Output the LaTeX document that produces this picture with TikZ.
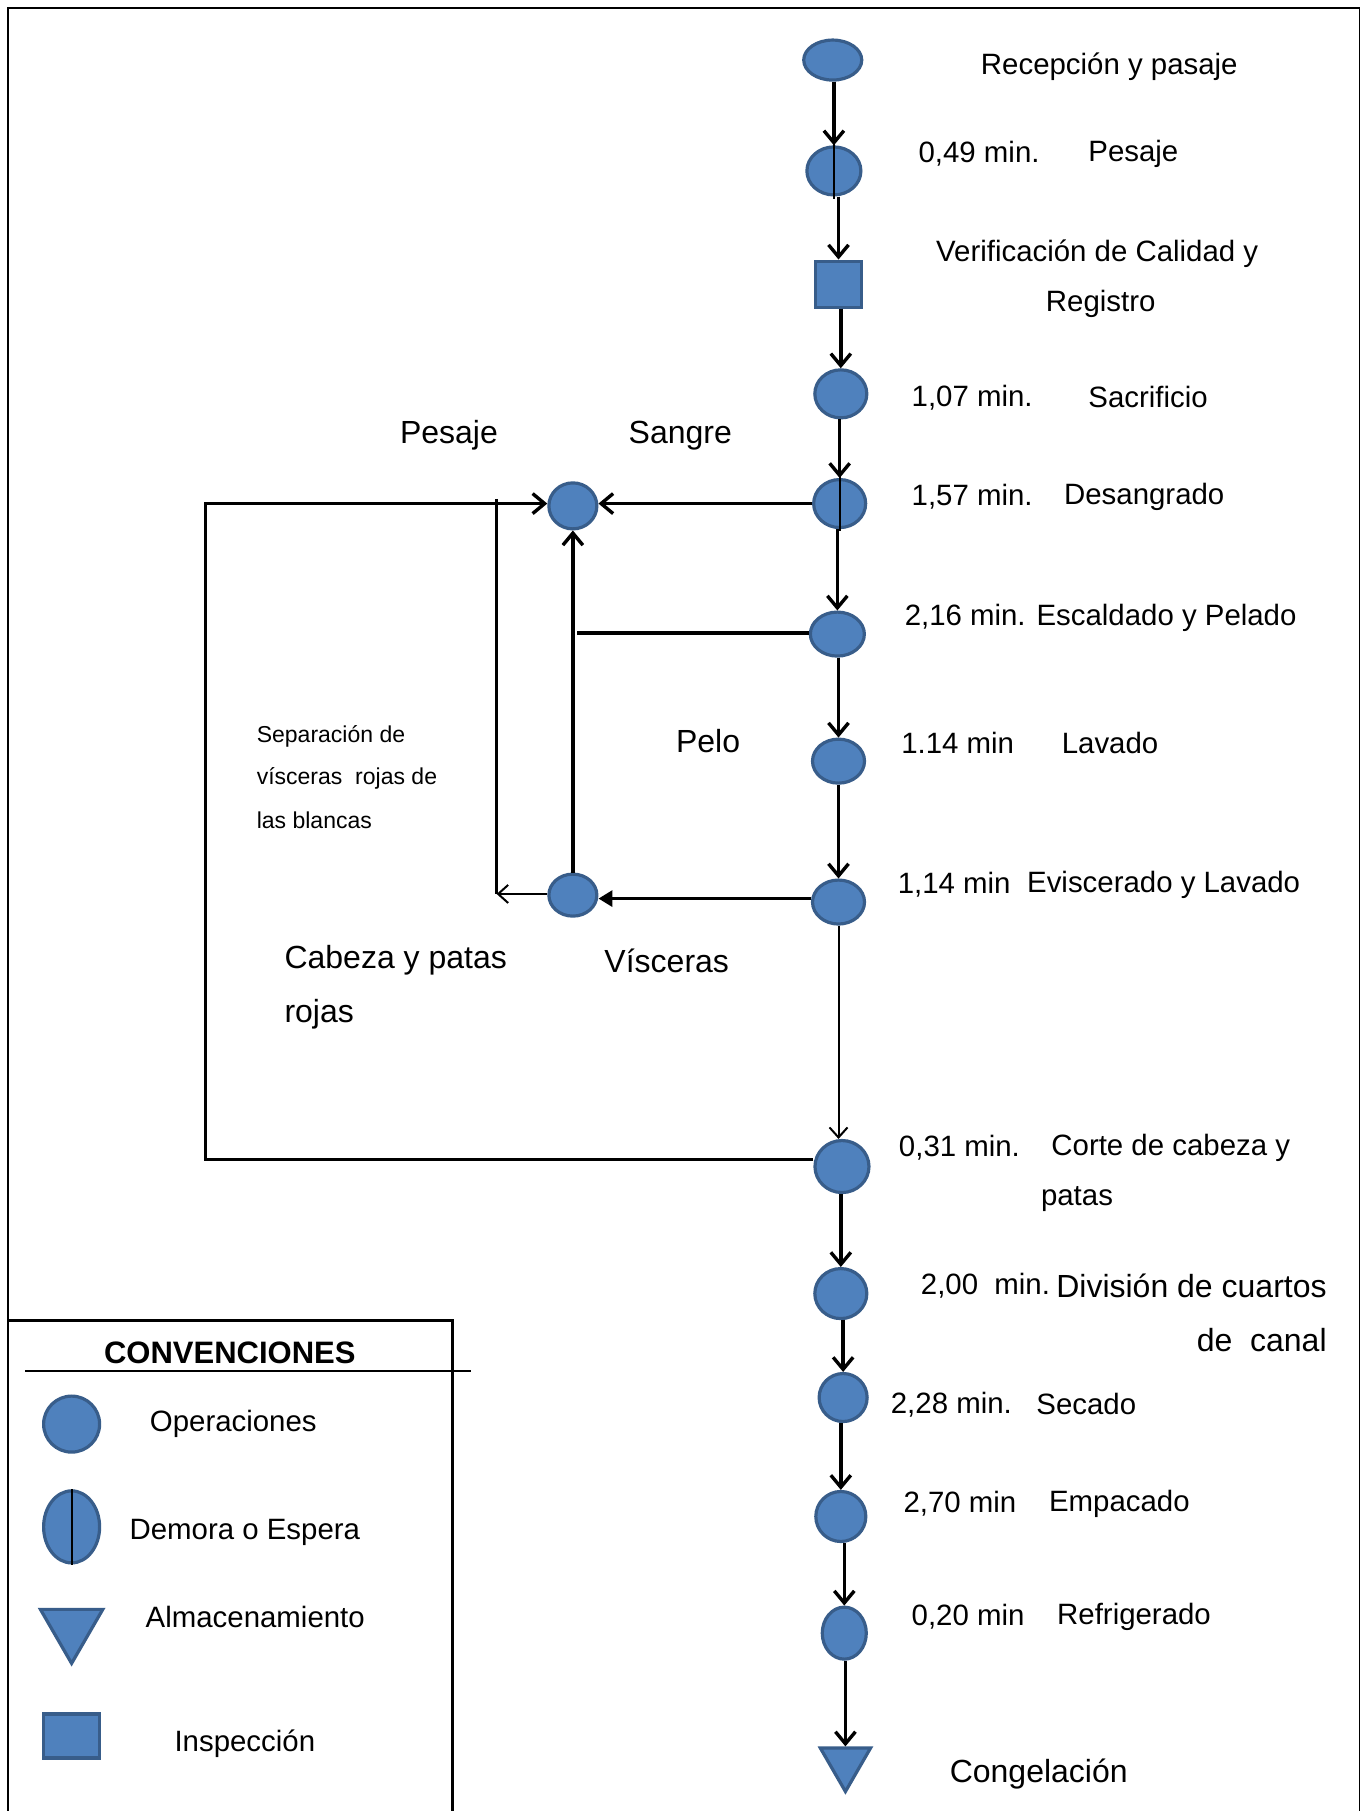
\documentclass[tikz,border=0pt]{standalone}
\usepackage{fontspec}
\setmainfont{Liberation Sans}
\usetikzlibrary{shapes.geometric,arrows.meta}
\definecolor{blu}{HTML}{4F81BD}
\definecolor{bord}{HTML}{385D8A}
\begin{document}
\begin{tikzpicture}[x=0.5774pt,y=-0.5774pt,
 opn/.style={ellipse,draw=bord,fill=blu,line width=1.6pt,inner sep=0pt},
 insp/.style={rectangle,draw=bord,fill=blu,line width=1.6pt,inner sep=0pt},
 stor/.style={regular polygon,regular polygon sides=3,shape border rotate=180,draw=bord,fill=blu,line width=1.6pt,inner sep=0pt},
 thk/.style={line width=1.7pt},
 thn/.style={line width=1pt},
 flow/.style={thk,-{Straight Barb[length=6pt,width=10pt]}},
 thinflow/.style={thn,-{Straight Barb[length=5pt,width=9pt]}},
 dline/.style={line width=1pt},
 lbl/.style={anchor=west,inner sep=0pt,font=\fontsize{14.7}{17}\selectfont},
 big/.style={anchor=west,inner sep=0pt,font=\fontsize{16}{19}\selectfont},
 small/.style={anchor=west,inner sep=0pt,font=\fontsize{11.5}{13}\selectfont},
 frame/.style={line width=0.9pt},
 lframe/.style={line width=1.4pt}
]
\useasboundingbox (0,0) rectangle (1182,1568);
% outer frame
\draw[frame] (7,1143) -- (7,7) -- (1177,7) -- (1177,1568);

% main column nodes
\node[opn,minimum width=29pt,minimum height=20pt] (rec) at (721,52) {};
\node[opn,minimum width=27pt,minimum height=24pt] (pes) at (722,148) {};
\node[insp,minimum width=23pt,minimum height=23pt] (ver) at (726,246) {};
\node[opn,minimum width=26pt,minimum height=24pt] (sac) at (728,341) {};
\node[opn,minimum width=26pt,minimum height=24pt] (des) at (727,436) {};
\node[opn,minimum width=27pt,minimum height=22pt] (esc) at (725,549) {};
\node[opn,minimum width=26pt,minimum height=22pt] (lav) at (726,659) {};
\node[opn,minimum width=26pt,minimum height=22pt] (evi) at (726,781) {};
\node[opn,minimum width=27pt,minimum height=26pt] (cor) at (729,1010) {};
\node[opn,minimum width=26pt,minimum height=25pt] (div) at (728,1120) {};
\node[opn,minimum width=24pt,minimum height=24pt] (sec) at (730,1210) {};
\node[opn,minimum width=25pt,minimum height=25pt] (emp) at (728,1313) {};
\node[opn,minimum width=22pt,minimum height=26pt] (ref) at (731,1414) {};
\node[stor,minimum size=29pt] (con) at (732,1526) {};

% delay marks
\draw[dline] ([yshift=1pt]pes.north) -- ([yshift=-1pt]pes.south);
\draw[dline] ([yshift=1pt]des.north) -- ([yshift=-1pt]des.south);

% side nodes
\node[opn,minimum width=24pt,minimum height=23pt] (san) at (496,438) {};
\node[opn,minimum width=24pt,minimum height=21pt] (vis) at (496,775) {};

% main flow arrows (vertical, at the x of the target)
\draw[flow] (rec.south -| pes.north) -- (pes.north);
\draw[flow] (pes.south -| ver.north) -- (ver.north);
\draw[flow] (ver.south -| sac.north) -- (sac.north);
\draw[flow] (sac.south -| des.north) -- (des.north);
\draw[flow] (des.south -| esc.north) -- (esc.north);
\draw[flow] (esc.south -| lav.north) -- (lav.north);
\draw[flow] (lav.south -| evi.north) -- (evi.north);
\draw[thinflow] (evi.south) -- (evi.south |- cor.north);
\draw[flow] (cor.south -| div.north) -- (div.north);
\draw[flow] (div.south -| sec.north) -- (sec.north);
\draw[flow] (sec.south -| emp.north) -- (emp.north);
\draw[flow] (emp.south -| ref.north) -- (ref.north);
\draw[flow] (ref.south -| con.north) -- (con.north);

% side connectors
\coordinate (jp) at (500,548);
\coordinate (sepb) at (430,774);
\coordinate (sept) at (430,432);
\coordinate (c1) at (178,1004);
\coordinate (c2) at (178,436);
\draw[flow] (des.west |- c2) -- (san.east |- c2);
\draw[thk] (esc.west |- jp) -- (jp);
\draw[flow] (vis.north) -- (san.south);
\draw[thk,-{Triangle[length=7pt,width=8pt]}] (evi.west |- 0,778) -- (vis.east |- 0,778);
\draw[thinflow] (vis.west |- sepb) -- (sepb);
\draw[line width=1.3pt] (sept) -- (sepb);
\draw[flow] (cor.west |- c1) -- (c1) -- (c2) -- (san.west |- c2);

% main labels
\node[lbl] (l1) at (849,58) {Recepción y pasaje};
\node[lbl] (l2a) at (795,133) {0,49 min.};
\node[lbl] (l2b) at (942,133) {Pesaje};
\node[lbl,anchor=center] (l3a) at (950,220) {Verificación de Calidad y};
\node[lbl,anchor=center] (l3b) at (953,263) {Registro};
\node[lbl] (l4a) at (789,344) {1,07 min.};
\node[lbl] (l4b) at (942,344) {Sacrificio};
\node[lbl] (l5a) at (789,430) {1,57 min.};
\node[lbl] (l5b) at (921,430) {Desangrado};
\node[lbl] (l6) at (783,535) {2,16 min. Escaldado y Pelado};
\node[lbl] (l7a) at (780,643) {1.14 min};
\node[lbl] (l7b) at (919,643) {Lavado};
\node[lbl] (l8a) at (777,766) {1,14 min};
\node[lbl] (l8b) at (889,766) {Eviscerado y Lavado};
\node[lbl] (l9a) at (778,994) {0,31 min.};
\node[lbl] (l9b) at (910,994) {Corte de cabeza y};
\node[lbl] (l9c) at (901,1038) {patas};
\node[lbl] (l10a) at (797,1113) {2,00\ \ min.};
\node[big,anchor=east] (l10b) at (1149,1113) {División de cuartos};
\node[big,anchor=east] (l10c) at (1149,1160) {de\ \ canal};
\node[lbl] (l11a) at (771,1216) {2,28 min.};
\node[lbl] (l11b) at (897,1216) {Secado};
\node[lbl] (l12a) at (782,1302) {2,70 min};
\node[lbl] (l12b) at (908,1302) {Empacado};
\node[lbl] (l13a) at (789,1400) {0,20 min};
\node[lbl] (l13b) at (915,1400) {Refrigerado};
\node[big] (l14) at (822,1536) {Congelación};

% side labels
\node[big] (s1) at (346,377) {Pesaje};
\node[big] (s2) at (544,377) {Sangre};
\node[big] (s3) at (585,642) {Pelo};
\node[big] (s4) at (523,832) {Vísceras};
\node[big] (s5) at (246,831) {Cabeza y patas};
\node[big] (s6) at (246,878) {rojas};
\node[small] (s7) at (222,638) {Separación de};
\node[small] (s8) at (222,674) {vísceras\ \ rojas de};
\node[small] (s9) at (222,710) {las blancas};

% legend
\draw[lframe] (7,1568) -- (7,1143) -- (392,1143) -- (392,1568);
\draw[lframe] (22,1187) -- (408,1187);
\node[inner sep=0pt,font=\fontsize{15.5}{18}\selectfont\bfseries] (lt) at (199,1171) {CONVENCIONES};
\node[opn,minimum width=28pt,minimum height=28pt] (lg1) at (62,1233) {};
\node[lbl,anchor=center] (lg1t) at (202,1233) {Operaciones};
\node[opn,minimum width=28pt,minimum height=36pt] (lg2) at (62,1322) {};
\draw[dline] (lg2.north) -- (lg2.south);
\node[lbl,anchor=center] (lg2t) at (212,1327) {Demora o Espera};
\node[stor,minimum size=36pt] (lg3) at (62,1409) {};
\node[lbl,anchor=center] (lg3t) at (221,1400) {Almacenamiento};
\node[insp,minimum width=28pt,minimum height=22pt] (lg4) at (62,1503) {};
\node[lbl,anchor=center] (lg4t) at (212,1510) {Inspección};
\end{tikzpicture}
\end{document}
